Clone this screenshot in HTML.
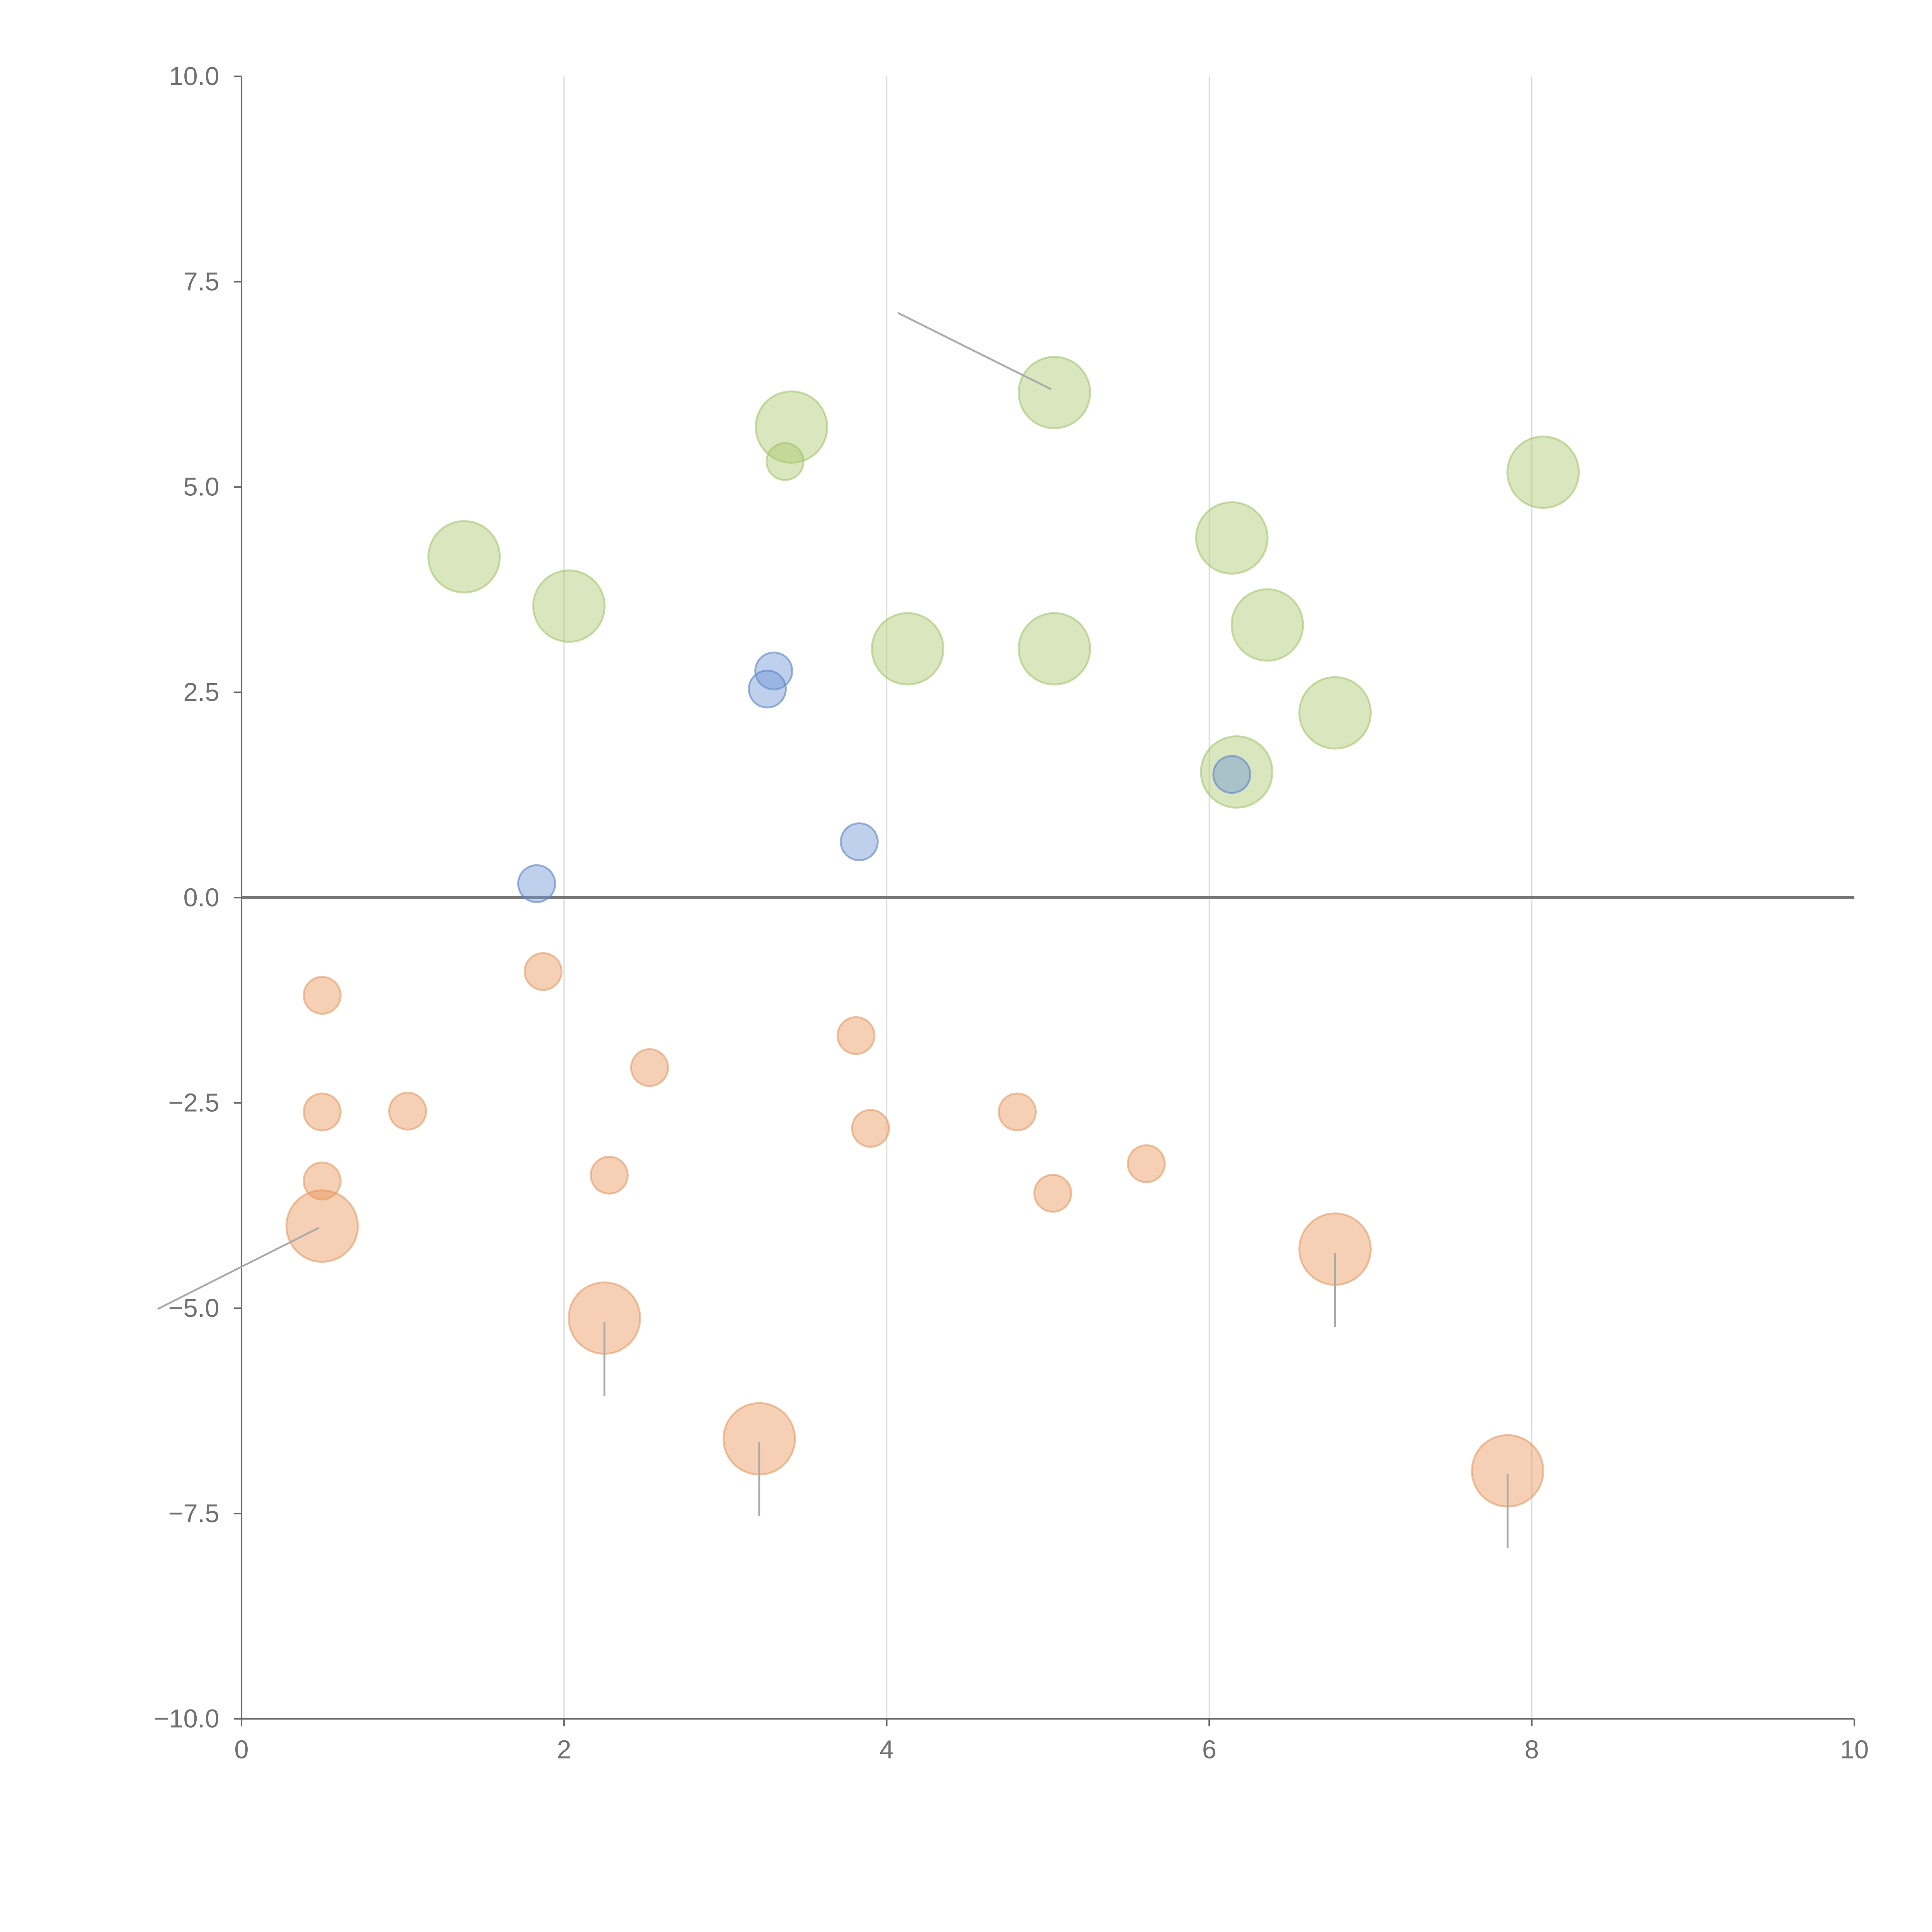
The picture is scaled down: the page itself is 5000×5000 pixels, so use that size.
<!DOCTYPE html>
<html><head><meta charset="utf-8"><style>
html,body{margin:0;padding:0;background:#fff;}
svg{display:block;}
text{font-family:"Liberation Sans",Arial,sans-serif;fill:#707070;font-size:21px;}
</style></head><body>
<svg id="chart" width="5000" height="5000" viewBox="0 0 1568 1568" xmlns="http://www.w3.org/2000/svg">
<g id="grid"></g>
<g id="axes"></g>
<g id="marks"></g>
</svg>
<script>
const greenX=[1.38,2.03,3.41,3.37,5.04,4.13,5.04,6.14,6.36,6.17,6.78,8.07];
const greenY=[4.15,3.55,5.73,5.31,6.15,3.03,3.03,4.38,3.32,1.53,2.25,5.18];
const greenSize=[29,29,29,15,29,29,29,29,29,29,29,29];
const blueX=[3.30,3.26,3.83,1.83,6.14];
const blueY=[2.76,2.54,0.68,0.17,1.50];
const blueSize=[15,15,15,15,15];
const orangeX=[0.50,0.50,0.50,1.03,1.87,2.53,2.28,3.81,3.90,4.81,5.03,5.61,0.50,2.25,3.21,6.78,7.85];
const orangeY=[-1.19,-2.61,-3.45,-2.60,-0.90,-2.07,-3.38,-1.68,-2.81,-2.61,-3.60,-3.24,-4.00,-5.12,-6.59,-4.28,-6.98];
const orangeSize=[15,15,15,15,15,15,15,15,15,15,15,15,29,29,29,29,29];
const leaderX1=[5.02,0.48,2.25,3.21,6.78,7.85];
const leaderY1=[6.19,-4.02,-5.17,-6.63,-4.33,-7.02];
const leaderX2=[4.07,-0.52,2.25,3.21,6.78,7.85];
const leaderY2=[7.12,-5.01,-6.07,-7.53,-5.23,-7.92];
const xTicks=[0,2,4,6,8,10];
const yTicks=[10,7.5,5,2.5,0,-2.5,-5,-7.5,-10];
const xTickLabels=["0","2","4","6","8","10"];
const yTickLabels=["10.0","7.5","5.0","2.5","0.0","−2.5","−5.0","−7.5","−10.0"];

const X0=196,X1=1505,Y0=1395,Y1=62;
function sx(v){return X0+(v-0)/(10-0)*(X1-X0);}
function sy(v){return Y0-(v+10)/20*(Y0-Y1);}
const NS="http://www.w3.org/2000/svg";
function mk(tag,attrs,parent){const e=document.createElementNS(NS,tag);for(const k in attrs)e.setAttribute(k,attrs[k]);parent.appendChild(e);return e;}
const grid=document.getElementById('grid'),axes=document.getElementById('axes'),marks=document.getElementById('marks');

xTicks.forEach((t,i)=>{
  if(t>0&&t<10){const g=mk('line',{x1:sx(t),x2:sx(t),y1:Y1,y2:Y0,stroke:'#dcdcdc','stroke-width':1},grid);
  
  }
  const tk=mk('line',{x1:sx(t),x2:sx(t),y1:Y0,y2:Y0+6,stroke:'#666','stroke-width':1.3},axes);
  
  
  const tl=mk('text',{x:sx(t),y:Y0+32,'text-anchor':'middle'},axes);tl.textContent=xTickLabels[i];
  
  
});
yTicks.forEach((t,i)=>{
  const tk=mk('line',{x1:X0-6,x2:X0,y1:sy(t),y2:sy(t),stroke:'#666','stroke-width':1.3},axes);
  
  
  const tl=mk('text',{x:X0-18,y:sy(t)+7,'text-anchor':'end'},axes);tl.textContent=yTickLabels[i];
  
  
});
const ya=mk('line',{x1:X0,x2:X0,y1:Y1,y2:Y0,stroke:'#666','stroke-width':1.3},axes);


const xa=mk('line',{x1:X0,x2:X1,y1:Y0,y2:Y0,stroke:'#666','stroke-width':1.3},axes);


const zl=mk('line',{x1:X0,x2:X1,y1:sy(0),y2:sy(0),stroke:'#777','stroke-width':2.5},axes);



function series(xs,ys,rs,fill,stroke,name){
  xs.forEach((x,i)=>{
    const c=mk('circle',{cx:sx(x),cy:sy(ys[i]),r:rs[i],fill:fill,stroke:stroke,'stroke-width':1.5},marks);
    
    
  });
}
series(greenX,greenY,greenSize,'rgba(170,200,110,0.45)','rgba(150,190,90,0.5)','green-bubble');
series(orangeX,orangeY,orangeSize,'rgba(232,150,90,0.45)','rgba(225,140,80,0.5)','orange-bubble');
series(blueX,blueY,blueSize,'rgba(110,150,210,0.45)','rgba(90,130,200,0.6)','blue-bubble');
leaderX1.forEach((x,i)=>{
  const l=mk('line',{x1:sx(x),y1:sy(leaderY1[i]),x2:sx(leaderX2[i]),y2:sy(leaderY2[i]),stroke:'#aaa','stroke-width':1.5},marks);
  
  
});
</script>
</body></html>
